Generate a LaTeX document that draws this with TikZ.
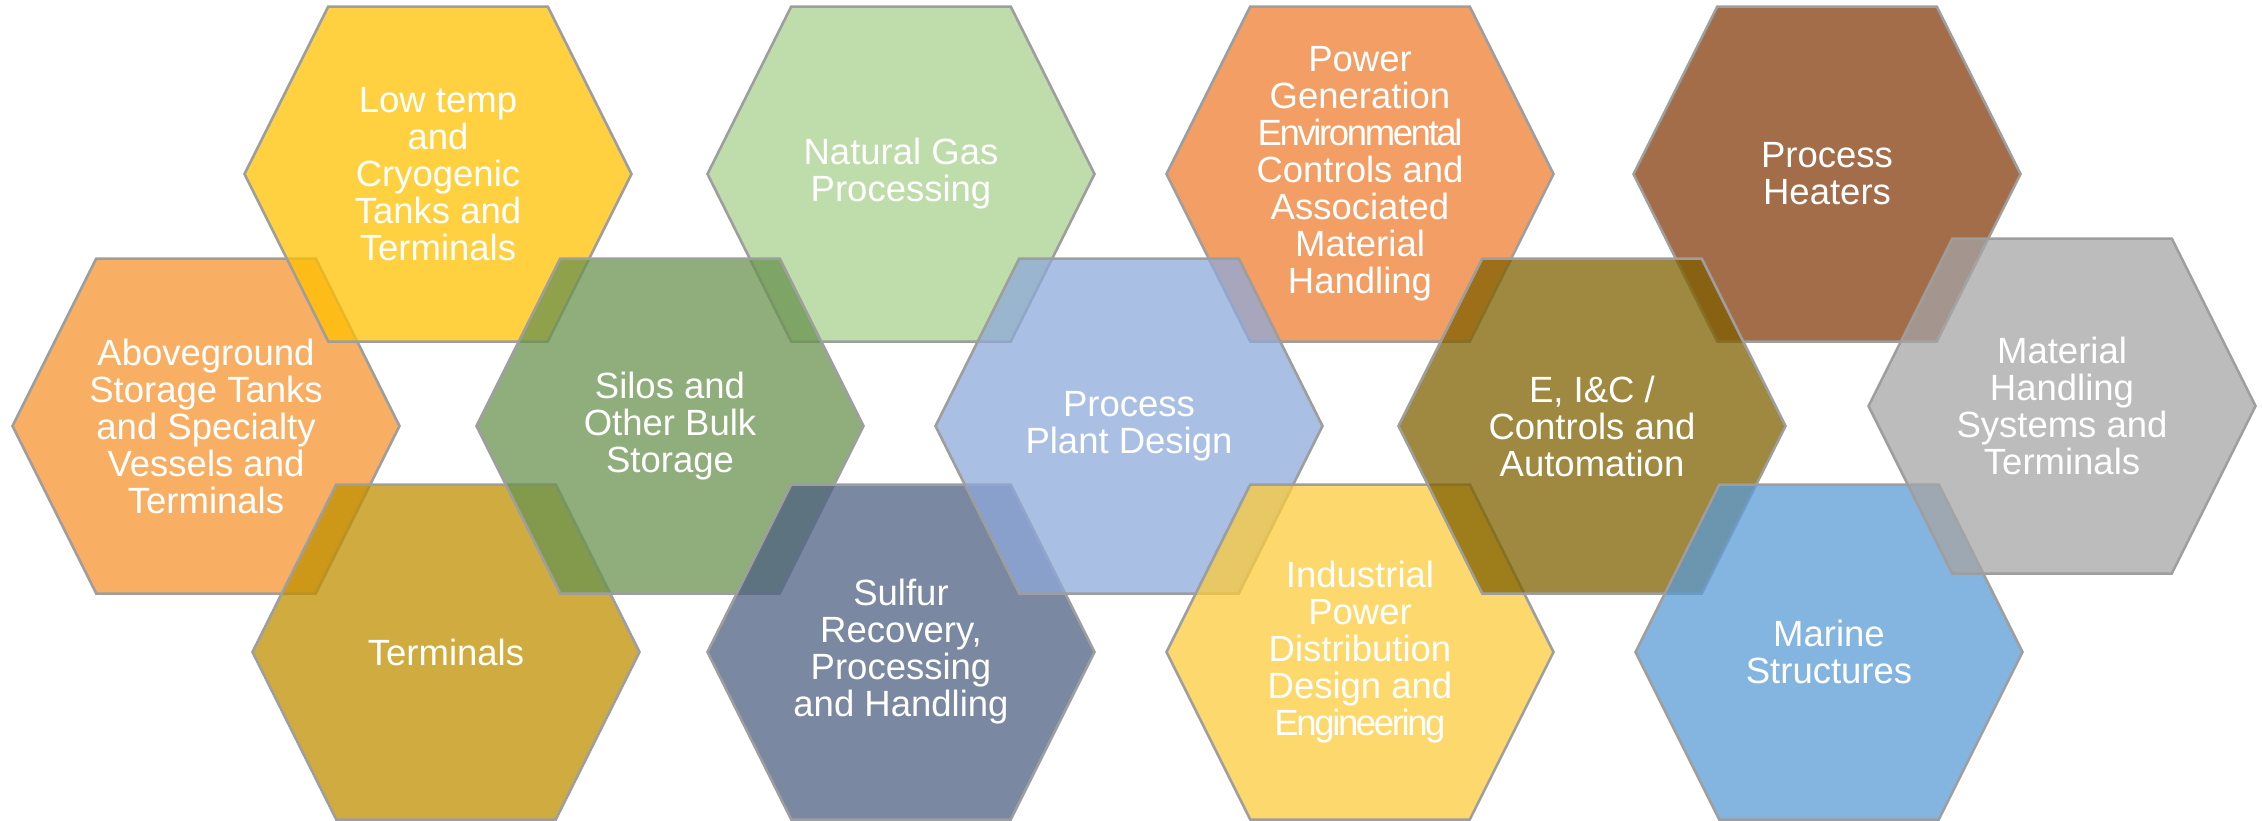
\documentclass[tikz,border=0pt]{standalone}
\usepackage{fontspec}
\setmainfont{Liberation Sans}

\definecolor{hexedge}{HTML}{9E9E9E}
\definecolor{aboveC}{HTML}{F69430}
\definecolor{lowtempC}{HTML}{FFC000}
\definecolor{terminalsC}{HTML}{BF8F00}
\definecolor{natgasC}{HTML}{A9D18E}
\definecolor{silosC}{HTML}{6A9350}
\definecolor{sulfurC}{HTML}{4E6082}
\definecolor{powergenC}{HTML}{ED7D31}
\definecolor{plantC}{HTML}{8EA9DB}
\definecolor{industrialC}{HTML}{FCCB3B}
\definecolor{heatersC}{HTML}{843C0C}
\definecolor{eicC}{HTML}{7F6000}
\definecolor{marineC}{HTML}{5B9BD5}
\definecolor{materialC}{HTML}{A5A5A5}

\tikzset{
  hexcell/.style={draw=hexedge, line width=2.5pt, fill opacity=0.75},
  celltext/.style={text=white, align=center, font=\fontsize{36.5}{37}\selectfont}
}

\newcommand{\tightword}[1]{{\addfontfeatures{LetterSpace=-6.5}#1}}
\newcommand{\honeycell}[4]{%
  \draw[hexcell, fill=#3, shift={(#2)}] (-193.5,0) -- (-109.75,-167.5) -- (109.75,-167.5)
    -- (193.5,0) -- (109.75,167.5) -- (-109.75,167.5) -- cycle;
  \node[celltext] (#1) at (#2) {#4};
}

\begin{document}
\begin{tikzpicture}[x=1pt,y=-1pt]
  \useasboundingbox (0,0) rectangle (2262,820);

  \honeycell{above}{206,426}{aboveC}{Aboveground\\Storage Tanks\\and Specialty\\Vessels and\\Terminals}
  \honeycell{lowtemp}{438,174}{lowtempC}{Low temp\\and\\Cryogenic\\Tanks and\\Terminals}
  \honeycell{terminals}{446,652}{terminalsC}{Terminals}
  \honeycell{natgas}{901,174}{natgasC}{Natural Gas\\Processing}
  \honeycell{silos}{670,426}{silosC}{Silos and\\Other Bulk\\Storage}
  \honeycell{sulfur}{901,652}{sulfurC}{Sulfur\\Recovery,\\Processing\\and Handling}
  \honeycell{powergen}{1360,174}{powergenC}{Power\\Generation\\\tightword{Environmental}\\Controls and\\Associated\\Material\\Handling}
  \honeycell{plant}{1129,426}{plantC}{Process\\Plant Design}
  \honeycell{industrial}{1360,652}{industrialC}{Industrial\\Power\\Distribution\\Design and\\\tightword{Engineering}}
  \honeycell{heaters}{1827,174}{heatersC}{Process\\Heaters}
  \honeycell{eic}{1592,426}{eicC}{E, I\&C /\\Controls and\\Automation}
  \honeycell{marine}{1829,652}{marineC}{Marine\\Structures}
  \honeycell{material}{2062,406}{materialC}{Material\\Handling\\Systems and\\Terminals}
\end{tikzpicture}
\end{document}
